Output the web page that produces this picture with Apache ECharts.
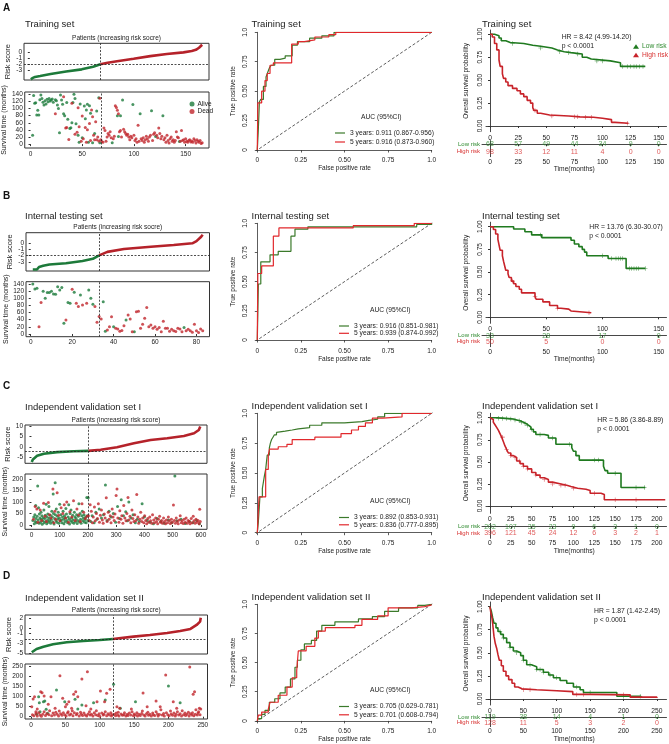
<!DOCTYPE html>
<html><head><meta charset="utf-8">
<script src="https://cdn.jsdelivr.net/npm/echarts@6/dist/echarts.min.js"></script>
<style>html,body{margin:0;padding:0;background:#fff}#c{width:669px;height:744px}</style>
</head><body><div id="c"></div>
<script>
const FONT = "'Liberation Sans', Arial, Helvetica, sans-serif";
const COL = {dotG:'#1b7b3b', dotR:'#c1262c', lineG:'#1d7a3a', lineR:'#b5222a', rocG:'#3b7a2b', rocR:'#e1282c', kmG:'#1f7a1f', kmR:'#c8232a', txtG:'#2f8a2f', txtR:'#d7302f'};

// ---------------- DATA ----------------
const titles = ['Training set','Internal testing set','Independent validation set I','Independent validation set II'];
const patientLabels = ['Patients (increasing risk socre)','Patients (increasing risk socre)','Patients (increasing risk score)','Patients (increasing risk socre)'];
const cutPatient = [68, 33, 202, 119];
const cutRisk = [-2.05, -1.9, -1.9, -2.1];

// risk score curves (patient rank, risk score)
const riskA = [[1,-4.55],[3,-4.3],[5,-4.15],[10,-4.0],[20,-3.68],[35,-3.27],[50,-2.9],[61,-2.46],[68,-2.05],[75,-1.8],[84,-1.55],[100,-1.15],[116,-0.72],[132,-0.38],[148,-0.1],[156,0.12],[160,0.32],[163,0.66],[166,1.15]];
const riskB = [[1,-4.2],[3,-4.2],[4,-3.8],[6,-3.6],[9,-3.4],[17,-3.2],[25,-2.85],[30,-2.5],[33,-1.95],[37,-1.4],[45,-0.95],[58,-0.6],[69,-0.32],[78,-0.05],[80,0.3],[82,0.9],[83,1.3]];
const riskC = [[1,-7.3],[5,-6.0],[8,-5.4],[20,-4.3],[44,-3.3],[91,-2.5],[150,-2.1],[202,-1.9],[245,-1.4],[303,-0.2],[363,1.7],[422,3.3],[481,4.1],[540,5.2],[576,6.5],[593,8.1],[598,9.8]];
const riskD = [[1,-4.8],[3,-4.47],[8,-4.13],[18,-3.67],[32,-3.2],[52,-2.8],[76,-2.53],[100,-2.33],[119,-2.13],[149,-1.67],[173,-1.33],[198,-0.93],[217,-0.53],[232,-0.13],[241,0.67],[246,1.33],[247,2.1]];

// survival time scatter (patient rank, months)
const aliveA = [[2,25],[3,137],[4,115],[5,116],[6,82],[7,95],[8,82],[9,125],[10,138],[11,128],[12,118],[13,110],[14,122],[15,113],[16,126],[17,119],[18,128],[19,121],[20,124],[21,127],[22,118],[24,125],[25,122],[26,110],[27,100],[28,32],[29,138],[30,124],[31,112],[32,85],[33,80],[35,117],[36,70],[38,44],[39,46],[40,60],[41,117],[42,140],[43,128],[44,57],[46,25],[47,5],[48,113],[50,18],[52,107],[53,71],[54,96],[55,112],[56,5],[57,108],[58,87],[60,4],[62,30],[64,93],[66,130],[67,4],[79,4],[85,21],[84,80],[87,80],[89,124],[99,111],[106,85],[117,94],[121,21],[128,80],[144,7]];
const deadA = [[24,85],[32,133],[34,45],[35,47],[37,13],[40,115],[43,28],[45,33],[46,102],[47,49],[49,8],[50,79],[51,15],[53,47],[54,5],[55,40],[57,58],[58,10],[59,96],[60,77],[61,25],[62,12],[63,63],[64,12],[65,20],[66,9],[67,129],[68,12],[69,7],[70,5],[71,45],[72,38],[73,8],[74,20],[75,30],[76,25],[77,35],[78,18],[80,15],[81,22],[82,108],[83,103],[84,95],[85,85],[86,35],[87,38],[88,20],[90,42],[91,35],[92,30],[93,25],[94,28],[95,20],[96,12],[97,22],[98,18],[100,25],[101,10],[102,15],[103,5],[104,53],[105,8],[107,15],[108,10],[109,18],[110,5],[111,12],[112,22],[113,15],[114,8],[115,20],[116,25],[118,10],[119,28],[120,32],[122,25],[123,18],[124,45],[125,30],[126,15],[127,22],[129,12],[130,18],[131,5],[132,25],[133,10],[134,3],[135,15],[136,20],[137,8],[138,12],[139,5],[140,10],[141,35],[142,20],[143,18],[145,8],[146,38],[147,10],[148,12],[149,5],[150,15],[151,8],[152,5],[153,10],[154,12],[155,6],[156,9],[157,5],[158,15],[159,10],[160,3],[161,12],[162,8],[163,5],[164,10],[165,2],[166,4]];
const aliveB = [[1,140],[2,126],[3,128],[6,120],[7,100],[8,116],[9,116],[10,120],[11,112],[12,111],[13,132],[14,123],[15,130],[16,30],[18,88],[19,86],[21,117],[24,109],[28,123],[29,100],[30,83],[35,90],[36,8],[40,20],[46,39],[50,6],[74,18]];
const deadB = [[4,20],[5,88],[17,39],[20,125],[22,86],[23,77],[25,81],[27,86],[31,77],[32,33],[33,49],[34,42],[37,11],[38,20],[39,48],[41,16],[42,14],[43,8],[44,10],[45,23],[47,53],[48,42],[49,6],[51,62],[52,64],[53,16],[54,27],[55,44],[56,74],[57,20],[58,25],[59,16],[60,20],[61,13],[62,18],[63,6],[64,36],[65,16],[66,16],[67,8],[68,13],[69,9],[70,7],[71,16],[72,14],[73,6],[75,9],[76,13],[77,9],[78,5],[79,27],[80,9],[81,4],[82,14],[83,9]];
const aliveC = [[5,20],[8,35],[10,5],[12,45],[14,15],[15,85],[16,28],[18,10],[20,38],[22,170],[24,22],[25,75],[27,8],[28,48],[30,30],[32,12],[34,55],[35,25],[37,40],[38,3],[40,18],[42,32],[44,65],[45,10],[47,28],[49,42],[50,15],[52,90],[54,5],[55,35],[57,22],[58,48],[60,12],[62,80],[63,30],[65,18],[67,42],[68,8],[70,25],[72,60],[74,36],[75,14],[77,135],[78,50],[80,4],[82,28],[84,184],[85,45],[87,20],[88,70],[90,12],[92,38],[94,26],[95,55],[97,8],[99,30],[100,90],[102,18],[104,45],[106,22],[108,10],[110,35],[112,60],[114,25],[115,5],[117,40],[119,15],[120,30],[122,72],[124,48],[126,20],[128,10],[130,35],[132,88],[134,26],[135,4],[137,50],[139,18],[140,65],[142,30],[144,12],[146,42],[148,22],[150,8],[152,55],[154,35],[156,15],[158,28],[160,45],[162,6],[164,20],[166,38],[168,92],[170,14],[172,50],[174,25],[176,8],[178,40],[180,60],[182,18],[184,30],[186,45],[188,12],[190,24],[192,35],[194,10],[196,120],[198,40],[200,20],[201,118],[210,15],[215,40],[222,10],[228,55],[232,25],[240,70],[248,30],[255,45],[262,174],[268,20],[275,60],[282,35],[290,50],[298,12],[305,80],[312,28],[318,110],[326,40],[334,58],[340,18],[345,100],[352,30],[360,45],[368,10],[375,25],[382,15],[392,92],[400,35],[410,20],[420,12],[432,5],[445,28],[458,15],[470,8],[485,22],[497,10],[508,213],[515,18],[530,25],[545,6],[560,15],[572,10],[585,20],[595,5]];
const deadC = [[7,25],[13,80],[19,70],[23,12],[31,65],[36,20],[43,95],[48,38],[53,15],[60,98],[64,45],[69,30],[76,157],[79,10],[83,60],[86,25],[91,140],[96,42],[101,18],[105,75],[111,50],[116,88],[121,30],[125,100],[131,12],[136,58],[143,35],[149,105],[155,20],[161,70],[167,44],[173,15],[179,92],[185,55],[191,28],[197,38],[202,40],[205,20],[208,88],[212,60],[216,10],[219,35],[223,78],[226,18],[230,50],[234,28],[237,92],[241,12],[244,42],[248,65],[251,22],[254,8],[258,48],[261,30],[265,118],[268,15],[272,55],[275,25],[279,40],[282,10],[286,70],[289,35],[293,20],[296,48],[300,128],[303,157],[306,30],[310,12],[313,62],[317,25],[320,40],[324,8],[327,85],[331,30],[335,18],[338,50],[342,120],[345,22],[349,38],[352,10],[356,65],[359,28],[363,15],[366,45],[370,20],[373,133],[377,35],[380,8],[384,25],[387,55],[391,15],[394,30],[398,10],[401,40],[405,20],[408,5],[412,28],[415,12],[419,35],[422,18],[426,8],[429,45],[433,22],[436,10],[440,30],[443,15],[447,5],[450,25],[454,38],[457,12],[461,20],[464,8],[468,30],[471,15],[475,5],[478,22],[482,10],[485,35],[489,18],[492,6],[496,25],[499,12],[503,87],[506,20],[510,8],[513,30],[517,15],[520,5],[524,22],[527,40],[531,10],[534,18],[538,6],[541,25],[545,12],[548,30],[552,8],[555,20],[559,15],[562,5],[566,28],[569,10],[573,38],[576,18],[580,8],[583,25],[587,12],[590,20],[594,5],[596,68],[598,15]];
const aliveD = [[8,12],[11,100],[12,70],[13,25],[18,75],[20,78],[22,37],[24,17],[37,133],[49,75],[64,87],[68,38],[74,58],[91,70],[108,83],[120,162],[130,42],[152,75],[200,153],[217,70]];
const deadD = [[1,50],[3,88],[5,100],[7,25],[9,38],[14,125],[16,120],[19,103],[25,62],[29,100],[35,42],[42,205],[46,92],[50,50],[52,62],[55,75],[59,42],[62,112],[65,125],[68,100],[74,188],[80,55],[82,225],[87,38],[96,75],[101,128],[107,75],[110,117],[115,137],[125,50],[129,42],[146,38],[163,118],[169,50],[182,78],[188,50],[196,208],[207,75],[212,42],[231,248],[236,112],[238,125],[245,42],[247,38],
[2,10],[4,5],[7,15],[9,3],[11,20],[13,8],[15,2],[17,12],[19,25],[21,6],[23,15],[26,10],[27,30],[30,5],[32,18],[34,8],[36,22],[38,12],[40,3],[41,28],[43,15],[45,7],[47,20],[49,10],[51,4],[53,18],[54,25],[56,8],[58,14],[60,30],[61,5],[63,20],[66,10],[67,16],[70,4],[72,22],[73,12],[75,6],[77,18],[79,9],[81,3],[83,14],[85,25],[86,8],[88,12],[90,4],[92,20],[94,10],[95,30],[97,6],[99,15],[100,2],[103,18],[105,8],[106,12],[108,25],[110,5],[112,15],[114,8],[116,20],[117,3],[118,10],[121,12],[123,5],[124,18],[126,8],[127,22],[128,3],[131,14],[133,7],[135,10],[136,20],[138,4],[140,12],[141,6],[143,18],[145,9],[147,25],[149,5],[150,14],[152,8],[154,20],[155,3],[157,12],[159,6],[161,16],[162,28],[164,9],[166,4],[168,15],[170,22],[171,7],[173,12],[175,3],[177,18],[178,10],[180,6],[182,25],[184,14],[185,4],[187,11],[189,35],[191,8],[193,16],[194,3],[197,20],[199,10],[201,5],[203,28],[204,14],[206,7],[208,18],[210,3],[211,12],[213,25],[215,8],[217,15],[219,4],[220,30],[222,10],[224,18],[225,6],[227,12],[229,22],[230,3],[232,15],[234,8],[235,20],[237,5],[239,12],[240,35],[242,8],[243,18],[244,25],[246,10]];

// ROC (false positive rate, true positive rate), step vertices
const rocA3 = [[0,0],[0.006,0.18],[0.012,0.41],[0.02,0.43],[0.035,0.54],[0.05,0.62],[0.06,0.66],[0.07,0.7],[0.08,0.72],[0.1,0.77],[0.13,0.78],[0.16,0.8],[0.2,0.89],[0.23,0.92],[0.3,0.95],[0.37,0.97],[0.44,1],[1,1]];
const rocA5 = [[0,0],[0.003,0.4],[0.025,0.5],[0.044,0.59],[0.057,0.65],[0.073,0.72],[0.092,0.74],[0.197,0.9],[0.235,0.92],[0.27,0.935],[0.33,0.96],[0.41,0.98],[0.45,1],[1,1]];
const rocB3 = [[0,0],[0.006,0.48],[0.02,0.67],[0.073,0.73],[0.12,0.76],[0.193,0.89],[0.216,0.95],[0.29,0.97],[0.914,0.99],[1,1]];
const rocB5 = [[0,0],[0.003,0.57],[0.025,0.635],[0.092,0.89],[0.124,0.96],[0.55,0.98],[0.9,1],[1,1]];
const rocC3 = [[0,0],[0.006,0.09],[0.015,0.3],[0.029,0.37],[0.04,0.47],[0.048,0.53],[0.057,0.65],[0.069,0.71],[0.075,0.75],[0.082,0.78],[0.09,0.8],[0.098,0.82],[0.11,0.84],[0.12,0.85],[0.16,0.86],[0.2,0.87],[0.235,0.88],[0.3,0.9],[0.37,0.92],[0.5,0.93],[0.6,0.94],[0.64,0.95],[0.69,0.97],[0.73,1],[1,1]];
const rocC5 = [[0,0],[0.01,0.3],[0.048,0.53],[0.063,0.65],[0.07,0.7],[0.12,0.72],[0.17,0.74],[0.2,0.78],[0.33,0.8],[0.48,0.83],[0.54,0.86],[0.58,0.89],[0.62,0.92],[0.66,0.96],[0.72,0.97],[0.83,1],[1,1]];
const rocD3 = [[0,0],[0.006,0.02],[0.025,0.056],[0.044,0.09],[0.069,0.16],[0.1,0.19],[0.13,0.24],[0.16,0.29],[0.19,0.36],[0.216,0.46],[0.23,0.52],[0.25,0.61],[0.27,0.66],[0.31,0.69],[0.34,0.77],[0.37,0.82],[0.445,0.85],[0.58,0.875],[0.66,0.895],[0.73,0.94],[0.81,0.97],[0.92,0.99],[0.96,1],[1,1]];
const rocD5 = [[0,0],[0.006,0.05],[0.025,0.076],[0.063,0.1],[0.073,0.16],[0.12,0.22],[0.17,0.29],[0.2,0.37],[0.226,0.43],[0.235,0.6],[0.28,0.64],[0.33,0.71],[0.35,0.77],[0.39,0.8],[0.56,0.82],[0.6,0.87],[0.69,0.9],[0.75,0.97],[0.885,0.98],[0.96,0.995],[1,1]];
const aucText = [
  ['3 years: 0.911 (0.867-0.956)','5 years: 0.916 (0.873-0.960)'],
  ['3 years: 0.916 (0.851-0.981)','5 years: 0.939 (0.874-0.992)'],
  ['3 years: 0.892 (0.853-0.931)','5 years: 0.836 (0.777-0.895)'],
  ['3 years: 0.705 (0.629-0.781)','5 years: 0.701 (0.608-0.794)']];

// Kaplan-Meier (months, survival probability)
const kmLowA = [[0,1],[4,1],[5,0.985],[8,0.96],[10,0.93],[14,0.91],[18,0.9],[30,0.88],[38,0.87],[45,0.85],[55,0.83],[60,0.81],[66,0.8],[72,0.785],[82,0.75],[86,0.73],[90,0.71],[107,0.69],[116,0.65],[138,0.65]];
const kmHighA = [[0,1],[2,0.97],[4,0.9],[6,0.83],[8,0.72],[9,0.65],[11,0.57],[12,0.52],[14,0.48],[16,0.44],[20,0.41],[24,0.385],[27,0.35],[30,0.32],[33,0.28],[36,0.25],[38,0.2],[39,0.17],[42,0.14],[45,0.12],[53,0.11],[70,0.1],[80,0.095],[92,0.085],[100,0.07],[108,0.04],[111,0.03],[123,0.03]];
const kmLowB = [[0,1],[21,0.975],[31,0.945],[37,0.91],[46,0.88],[72,0.85],[75,0.81],[79,0.78],[82,0.75],[84,0.72],[86,0.68],[105,0.65],[121,0.54],[138,0.54]];
const kmHighB = [[0,1],[3,0.97],[5,0.92],[7,0.86],[8,0.8],[9,0.74],[11,0.68],[12,0.62],[13,0.57],[14,0.52],[16,0.48],[17,0.44],[19,0.4],[21,0.37],[23,0.34],[26,0.31],[28,0.27],[40,0.23],[41,0.2],[47,0.17],[53,0.13],[60,0.1],[63,0.09],[70,0.07],[72,0.05],[90,0.05]];
const kmLowC = [[0,1],[8,0.995],[15,0.99],[22,0.985],[28,0.975],[32,0.965],[36,0.95],[40,0.935],[43,0.915],[46,0.895],[49,0.87],[52,0.84],[55,0.81],[65,0.8],[70,0.77],[79,0.7],[98,0.66],[100,0.62],[103,0.57],[107,0.52],[136,0.45],[138,0.4],[141,0.37],[157,0.21],[186,0.21]];
const kmHighC = [[0,1],[2,0.98],[4,0.95],[6,0.92],[8,0.89],[10,0.86],[12,0.82],[14,0.78],[16,0.73],[18,0.68],[20,0.64],[22,0.6],[25,0.57],[28,0.55],[32,0.51],[36,0.48],[40,0.45],[45,0.42],[50,0.38],[55,0.35],[60,0.32],[65,0.3],[70,0.27],[75,0.25],[85,0.235],[92,0.22],[97,0.2],[105,0.19],[115,0.175],[120,0.145],[133,0.13],[137,0.07],[210,0.07]];
const kmLowD = [[0,1],[2,0.95],[4,0.88],[6,0.82],[9,0.77],[12,0.73],[16,0.7],[20,0.66],[25,0.61],[30,0.56],[35,0.52],[40,0.5],[46,0.47],[50,0.42],[55,0.37],[62,0.35],[70,0.32],[80,0.29],[88,0.26],[95,0.23],[105,0.2],[115,0.17],[125,0.13],[135,0.1],[140,0.07],[190,0.03],[226,0.02]];
const kmHighD = [[0,1],[1,0.95],[3,0.88],[4,0.82],[5,0.75],[6,0.68],[8,0.6],[10,0.55],[12,0.48],[14,0.42],[17,0.36],[20,0.3],[24,0.25],[28,0.21],[33,0.17],[37,0.13],[42,0.11],[48,0.1],[70,0.09],[100,0.08],[124,0.05],[150,0.045],[210,0.02],[250,0.01]];
// censoring times
const censLowA = [20,45,62,70,78,95,100,118,122,125,128,130,133,136];
const censHighA = [40,55,75,78,85,90,122];
const censLowB = [45,100,108,112,114,116,118,124,126,128,130,132,138];
const censHighB = [20,40,60,88];
const censLowC = [10,15,20,25,30,35,38,42,45,50,60,75,95,125,130,150,175,185];
const censHighC = [15,20,25,30,35,40,45,55,65,75,85,90,100,125,150,175];
const censLowD = [15,20,30,40,50,60,70,75,80,90,100,130,150,200,225];
const censHighD = [50,60,130,140,200];
// number at risk tables
const kmTicksA = [0,25,50,75,100,125,150];
const atRiskLowA = [68,57,49,44,34,9,0];
const atRiskHighA = [98,33,12,11,4,0,0];
const kmTicksB = [0,50,100,150];
const atRiskLowB = [33,28,17,0];
const atRiskHighB = [50,5,0,0];
const kmTicksC = [0,25,50,75,100,125,150,175,200];
const atRiskLowC = [202,107,35,23,9,6,3,1,0];
const atRiskHighC = [396,121,45,24,12,6,3,2,1];
const kmTicksD = [0,50,100,150,200,250];
const atRiskLowD = [119,38,14,4,1,0];
const atRiskHighD = [128,11,5,3,2,0];
const riskRows = ['Low risk','High risk'];
const hrText = ['HR = 8.42 (4.99-14.20)','HR = 13.76 (6.30-30.07)','HR = 5.86 (3.86-8.89)','HR = 1.87 (1.42-2.45)'];
const pText = 'p < 0.0001';
// tick labels
const patTicks = [[0,50,100,150],[0,20,40,60,80],[0,100,200,300,400,500,600],[0,50,100,150,200,250]];
const riskTicks = [[-4,-3,-2,-1,0,1],[-4,-3,-2,-1,0,1],[-5,0,5,10],[-5,-3,-1,0,2]];
const survTicks = [[0,20,40,60,80,100,120,140],[0,20,40,60,80,100,120,140],[0,50,100,150,200],[0,50,100,150,200,250]];
const probTicks = [0,0.25,0.5,0.75,1];

// ---------------- BUILD ----------------
const grid=[], xAxis=[], yAxis=[], series=[], title=[], legend=[];
const TXT = '#222', AX = '#333';
function txt(text, left, top, size, extra){
  title.push({text, left, top, padding:0, textStyle:Object.assign({fontSize:size, fontWeight:'normal', color:TXT, fontFamily:FONT}, extra||{})});
}
function ax(o){ return Object.assign({splitLine:{show:false}, axisLine:{show:false}, axisTick:{show:false}, axisLabel:{show:false}}, o); }

function leftPanel(i, L, risk, alive, dead){
  let gi = grid.length;
  grid.push({left:L.left, width:L.width, top:L.rTop, height:L.rH, show:true, borderColor:AX, borderWidth:1});
  let xi = xAxis.length;
  xAxis.push(ax({type:'value', gridIndex:gi, position:'top', min:L.xMin, max:L.xMax, name:patientLabels[i], nameLocation:'middle', nameGap:1.5, nameTextStyle:{fontSize:6.5, color:TXT}}));
  let yi = yAxis.length;
  yAxis.push(ax({type:'value', gridIndex:gi, min:L.rMin, max:L.rMax,
    axisTick:{show:true, customValues:riskTicks[i], length:2, lineStyle:{color:AX}},
    axisLabel:{show:true, customValues:riskTicks[i], fontSize:6.5, margin:2, color:TXT},
    name:'Risk score', nameLocation:'middle', nameRotate:90, nameGap:L.rGap, nameTextStyle:{fontSize:7.5, color:TXT}}));
  const cp = cutPatient[i];
  series.push({type:'line', xAxisIndex:xi, yAxisIndex:yi, data:risk.filter(d=>d[0]<=cp), showSymbol:false, silent:true, z:3,
    lineStyle:{width:2.6, color:COL.lineG}, itemStyle:{color:COL.lineG},
    markLine:{silent:true, symbol:'none', label:{show:false}, lineStyle:{type:[2,1.5], color:'#222', width:0.8}, data:[{yAxis:cutRisk[i]},{xAxis:cp}]}});
  series.push({type:'line', xAxisIndex:xi, yAxisIndex:yi, data:risk.filter(d=>d[0]>=cp), showSymbol:false, silent:true, z:3,
    lineStyle:{width:2.6, color:COL.lineR}, itemStyle:{color:COL.lineR}});
  // survival scatter
  gi = grid.length;
  grid.push({left:L.left, width:L.width, top:L.sTop, height:L.sH, show:true, borderColor:AX, borderWidth:1});
  xi = xAxis.length;
  xAxis.push(ax({type:'value', gridIndex:gi, min:L.xMin, max:L.xMax,
    axisTick:{show:true, customValues:patTicks[i], length:2, lineStyle:{color:AX}},
    axisLabel:{show:true, customValues:patTicks[i], fontSize:6.5, margin:2.5, color:TXT}}));
  yi = yAxis.length;
  yAxis.push(ax({type:'value', gridIndex:gi, min:L.sMin, max:L.sMax,
    axisTick:{show:true, customValues:survTicks[i], length:2, lineStyle:{color:AX}},
    axisLabel:{show:true, customValues:survTicks[i], fontSize:6.5, margin:2, color:TXT},
    name:'Survival time (months)', nameLocation:'middle', nameRotate:90, nameGap:L.sGap, nameTextStyle:{fontSize:7, color:TXT}}));
  const an = i===0 ? 'Alive' : 'Alive'+i, dn = i===0 ? 'Dead' : 'Dead'+i;
  series.push({type:'scatter', name:an, xAxisIndex:xi, yAxisIndex:yi, data:alive, symbolSize:3, itemStyle:{color:COL.dotG}, silent:true, z:3,
    markLine:{silent:true, symbol:'none', label:{show:false}, lineStyle:{type:[2,1.5], color:'#222', width:0.8}, data:[{xAxis:cp}]}});
  series.push({type:'scatter', name:dn, xAxisIndex:xi, yAxisIndex:yi, data:dead, symbolSize:3, itemStyle:{color:COL.dotR}, silent:true, z:3});
  if (i===0) legend.push({left:184.5, top:95.5, orient:'vertical', icon:'circle', itemWidth:5, itemHeight:5, itemGap:0.5, selectedMode:false,
    textStyle:{fontSize:6.5, color:TXT, lineHeight:6, padding:[0,0,0,-2]}, data:[an, dn]});
  txt(titles[i], 25, L.tTop, 9.5);
}

const fmtP = v => v===0 ? '0' : (v===1 ? '1.0' : v.toFixed(2));
function rocPanel(i, R, r3, r5){
  const gi = grid.length;
  grid.push({left:257.3, width:174.4, top:R.top, height:R.h, show:false});
  const xi = xAxis.length;
  xAxis.push({type:'value', gridIndex:gi, min:0, max:1, interval:0.25, offset:R.xOff, splitLine:{show:false},
    axisLine:{show:true, lineStyle:{color:AX, width:0.8}}, axisTick:{length:2.5, lineStyle:{color:AX, width:0.8}},
    axisLabel:{fontSize:6.5, margin:2.5, color:TXT, formatter:fmtP},
    name:'False positive rate', nameLocation:'middle', nameGap:R.xGap, nameTextStyle:{fontSize:6.5, color:TXT}});
  const yi = yAxis.length;
  yAxis.push({type:'value', gridIndex:gi, min:0, max:1, interval:0.25, offset:5.6, splitLine:{show:false},
    axisLine:{show:true, lineStyle:{color:AX, width:0.8}}, axisTick:{length:2.5, lineStyle:{color:AX, width:0.8}},
    axisLabel:{fontSize:6.5, margin:2.5, color:TXT, rotate:90, formatter:fmtP},
    name:'True positive rate', nameLocation:'middle', nameRotate:90, nameGap:15, nameTextStyle:{fontSize:6.5, color:TXT}});
  series.push({type:'line', xAxisIndex:xi, yAxisIndex:yi, data:[[-0.036,-0.036],[1.036,1.036]], clip:false, showSymbol:false, silent:true,
    lineStyle:{type:[3,2], color:'#333', width:0.8}});
  series.push({type:'line', name:aucText[i][0], xAxisIndex:xi, yAxisIndex:yi, data:r3, step:'end', showSymbol:false, silent:true,
    lineStyle:{width:1.2, color:COL.rocG}, itemStyle:{color:COL.rocG}});
  series.push({type:'line', name:aucText[i][1], xAxisIndex:xi, yAxisIndex:yi, data:r5, step:'end', showSymbol:false, silent:true,
    lineStyle:{width:1.2, color:COL.rocR}, itemStyle:{color:COL.rocR}});
  legend.push({left:R.legLeft, top:R.legTop, orient:'vertical', icon:'rect', itemWidth:10, itemHeight:1.2, itemGap:R.legGap, selectedMode:false,
    textStyle:{fontSize:6.7, color:TXT, lineHeight:7}, data:aucText[i]});
  txt('AUC (95%CI)', R.aucLeft, R.legTop-11, 6.7);
  txt(titles[i], 251.5, R.tTop, 9.5);
}

function stepAt(curve, t){ let s = curve[0][1]; for (const d of curve){ if (d[0] <= t) s = d[1]; } return s; }
const PLUS = 'path://M0,4.4h10v1.2h-10z M4.4,0h1.2v10h-1.2z';
const fmt2 = v => v.toFixed(2);
function kmPanel(i, K, low, high, cL, cH, ticks, nL, nH){
  const right = 666.5, axX = 486, tblX = 482;
  const pxu = (right - axX) / (K.xMax - K.xMin);
  let gi = grid.length;
  grid.push({left:axX, width:right-axX, top:K.top, height:K.axY-K.top, show:false});
  let xi = xAxis.length;
  xAxis.push({type:'value', gridIndex:gi, min:K.xMin, max:K.xMax, splitLine:{show:false},
    axisLine:{show:true, lineStyle:{color:AX, width:0.9}}, axisTick:{show:true, customValues:ticks, length:2, lineStyle:{color:AX}},
    axisLabel:{customValues:ticks, fontSize:6.7, margin:2.5, color:TXT}});
  let yi = yAxis.length;
  yAxis.push({type:'value', gridIndex:gi, min:K.yMin, max:K.yMax, splitLine:{show:false},
    axisLine:{show:true, lineStyle:{color:AX, width:0.9}}, axisTick:{show:true, customValues:probTicks, length:2, lineStyle:{color:AX}},
    axisLabel:{customValues:probTicks, fontSize:6.5, margin:2, color:TXT, rotate:90, formatter:fmt2},
    name:'Overall survival probability', nameLocation:'middle', nameRotate:90, nameGap:16, nameTextStyle:{fontSize:6.5, color:TXT}});
  const ln = i===0 ? 'Low risk' : 'Low risk'+i, hn = i===0 ? 'High risk' : 'High risk'+i;
  series.push({type:'line', name:ln, xAxisIndex:xi, yAxisIndex:yi, data:low, step:'end', showSymbol:false, silent:true,
    lineStyle:{width:1.6, color:COL.kmG}, itemStyle:{color:COL.kmG}});
  series.push({type:'line', name:hn, xAxisIndex:xi, yAxisIndex:yi, data:high, step:'end', showSymbol:false, silent:true,
    lineStyle:{width:1.6, color:COL.kmR}, itemStyle:{color:COL.kmR}});
  series.push({type:'scatter', xAxisIndex:xi, yAxisIndex:yi, data:cL.map(t=>[t, stepAt(low,t)]), symbol:PLUS, symbolSize:4.5, silent:true, itemStyle:{color:COL.kmG}});
  series.push({type:'scatter', xAxisIndex:xi, yAxisIndex:yi, data:cH.map(t=>[t, stepAt(high,t)]), symbol:PLUS, symbolSize:4.5, silent:true, itemStyle:{color:COL.kmR}});
  if (i===0) legend.push({left:628, top:38, orient:'vertical', icon:'triangle', itemWidth:6, itemHeight:4.5, itemGap:1.5, selectedMode:false,
    textStyle:{fontSize:6.7, lineHeight:7, padding:[0,0,0,-2]}, data:[{name:ln, textStyle:{color:COL.txtG}}, {name:hn, textStyle:{color:COL.txtR}}]});
  // risk table: rows 0 (low) and 1 (high), rows spaced K.rowStep px apart
  const tTop = K.rowLow - K.rowStep/2, tH = K.lineY - tTop;
  gi = grid.length;
  grid.push({left:tblX, width:right-tblX, top:tTop, height:tH, show:false});
  xi = xAxis.length;
  xAxis.push({type:'value', gridIndex:gi, min:K.xMin-(axX-tblX)/pxu, max:K.xMax, splitLine:{show:false},
    axisLine:{show:true, lineStyle:{color:AX, width:0.9}}, axisTick:{show:true, customValues:ticks, length:2, lineStyle:{color:AX}},
    axisLabel:{customValues:ticks, fontSize:6.7, margin:1.5, color:TXT},
    name:'Time(months)', nameLocation:'middle', nameGap:K.nGap, nameTextStyle:{fontSize:6.7, color:TXT}});
  yi = yAxis.length;
  yAxis.push({type:'value', gridIndex:gi, min:-0.5, max:-0.5 + tH/K.rowStep, inverse:true, splitLine:{show:false},
    axisLine:{show:true, lineStyle:{color:AX, width:0.9}}, axisTick:{show:false},
    axisLabel:{customValues:[0,1], fontSize:6, margin:2, formatter:v => v===0 ? '{g|'+riskRows[0]+'}' : '{r|'+riskRows[1]+'}',
      rich:{g:{color:COL.txtG, fontSize:6, fontFamily:FONT}, r:{color:COL.txtR, fontSize:6, fontFamily:FONT}}}});
  const lbl = c => ({show:true, position:'inside', formatter:p=>String(p.value[2]), color:c, fontSize:7, fontFamily:FONT});
  series.push({type:'scatter', xAxisIndex:xi, yAxisIndex:yi, data:ticks.map((t,k)=>[t,0,nL[k]]), symbolSize:1, silent:true,
    itemStyle:{color:'rgba(0,0,0,0)'}, label:lbl(COL.txtG)});
  series.push({type:'scatter', xAxisIndex:xi, yAxisIndex:yi, data:ticks.map((t,k)=>[t,1,nH[k]]), symbolSize:1, silent:true,
    itemStyle:{color:'rgba(0,0,0,0)'}, label:lbl(COL.txtR)});
  txt(hrText[i], K.hrLeft, K.hrTop, 6.8);
  txt(pText, K.hrLeft, K.hrTop+8.3, 6.8);
  txt(titles[i], 482, K.titleTop, 9.5);
}

// row letters
['A','B','C','D'].forEach((s,k)=>txt(s, 3, [3,191.5,381,571][k], 10, {fontWeight:'bold', color:'#111'}));

leftPanel(0, {left:24, width:185, xMin:-5.6, xMax:172.6, rTop:43.3, rH:36.7, rMin:-4.66, rMax:1.4, rGap:12, sTop:92, sH:56, sMin:-11, sMax:146.5, sGap:13, tTop:19.5}, riskA, aliveA, deadA);
leftPanel(1, {left:26, width:183.5, xMin:-2.28, xMax:86.28, rTop:232.7, rH:38.3, rMin:-4.43, rMax:1.63, rGap:12, sTop:281.7, sH:55, sMin:-7.6, sMax:146.4, sGap:13, tTop:211}, riskB, aliveB, deadB);
leftPanel(2, {left:25, width:182, xMin:-22.9, xMax:621.9, rTop:425, rH:38.3, rMin:-7.87, rMax:10.48, rGap:12, sTop:474, sH:55.3, sMin:-18.7, sMax:221.7, sGap:13, tTop:402}, riskC, aliveC, deadC);
leftPanel(3, {left:25, width:182.5, xMin:-8.84, xMax:256.84, rTop:615, rH:39, rMin:-5.14, rMax:2.66, rGap:12, sTop:664, sH:55, sMin:-11.5, sMax:263.5, sGap:13, tTop:593}, riskD, aliveD, deadD);

rocPanel(0, {top:32.3, h:117.7, xOff:4.3, xGap:9, legLeft:330, legTop:124.5, legGap:2, aucLeft:361, tTop:19.5}, rocA3, rocA5);
rocPanel(1, {top:223.3, h:116.7, xOff:5, xGap:9.5, legLeft:334, legTop:317.5, legGap:0.3, aucLeft:370, tTop:211}, rocB3, rocB5);
rocPanel(2, {top:413.3, h:119.4, xOff:4.6, xGap:9.5, legLeft:334, legTop:509, legGap:0.3, aucLeft:370, tTop:401}, rocC3, rocC5);
rocPanel(3, {top:604.3, h:118, xOff:4.7, xGap:8.5, legLeft:334, legTop:698, legGap:1.3, aucLeft:370, tTop:592}, rocD3, rocD5);

kmPanel(0, {top:30, axY:131.7, xMin:-3.57, xMax:156.9, yMin:-0.062, yMax:1.047, rowLow:144.3, rowStep:7.4, lineY:156.7, nGap:5.5, hrLeft:561.7, hrTop:34, titleTop:19.5}, kmLowA, kmHighA, censLowA, censHighA, kmTicksA, atRiskLowA, atRiskHighA);
kmPanel(1, {top:222.2, axY:323.3, xMin:-3.57, xMax:156.9, yMin:-0.066, yMax:1.05, rowLow:335.7, rowStep:6, lineY:346.7, nGap:7, hrLeft:589.3, hrTop:224, titleTop:211}, kmLowB, kmHighB, censLowB, censHighB, kmTicksB, atRiskLowB, atRiskHighB);
kmPanel(2, {top:413.3, axY:513.3, xMin:-4.75, xMax:211.5, yMin:-0.083, yMax:1.05, rowLow:526.7, rowStep:6.6, lineY:538.3, nGap:6.5, hrLeft:597.3, hrTop:417, titleTop:401}, kmLowC, kmHighC, censLowC, censHighC, kmTicksC, atRiskLowC, atRiskHighC);
kmPanel(3, {top:602, axY:705, xMin:-5.94, xMax:264.4, yMin:-0.065, yMax:1.05, rowLow:717.3, rowStep:6.7, lineY:728.3, nGap:6, hrLeft:594, hrTop:608, titleTop:592}, kmLowD, kmHighD, censLowD, censHighD, kmTicksD, atRiskLowD, atRiskHighD);

const chart = echarts.init(document.getElementById('c'), null, {renderer:'canvas'});
chart.setOption({animation:false, backgroundColor:'#fff', textStyle:{fontFamily:FONT}, title, legend, grid, xAxis, yAxis, series});
</script></body></html>
